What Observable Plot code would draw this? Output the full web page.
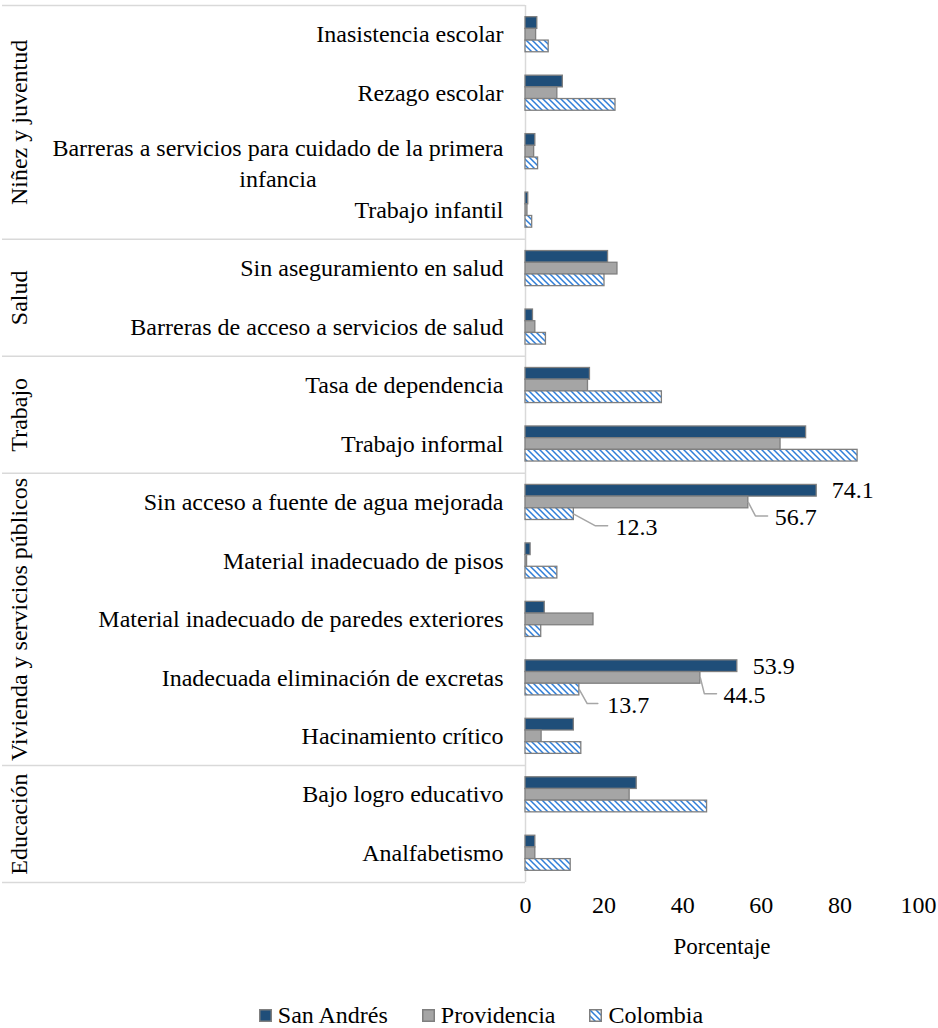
<!DOCTYPE html>
<html><head><meta charset="utf-8">
<script src="https://cdn.jsdelivr.net/npm/d3@7"></script>
<script src="https://cdn.jsdelivr.net/npm/@observablehq/plot@0.6"></script>
<style>
body{margin:0;background:#fff;color:#000;font-family:"Liberation Serif","Times New Roman",serif;}
#chart{width:938px;}
.legend{display:flex;justify-content:center;align-items:center;gap:34px;font-size:24px;line-height:28px;padding-top:26px;margin-left:24px;width:914px;}
.legend .item{display:flex;align-items:center;gap:6px;}
.legend svg{display:block;}
</style></head><body><div id="chart"></div><script>
// ---- data ----
const groups = ["Niñez y juventud", "Salud", "Trabajo", "Vivienda y servicios públicos", "Educación"];
const groupSizes = [4, 2, 2, 5, 2];
const categories = [
  "Inasistencia escolar",
  "Rezago escolar",
  "Barreras a servicios para cuidado de la primera\ninfancia",
  "Trabajo infantil",
  "Sin aseguramiento en salud",
  "Barreras de acceso a servicios de salud",
  "Tasa de dependencia",
  "Trabajo informal",
  "Sin acceso a fuente de agua mejorada",
  "Material inadecuado de pisos",
  "Material inadecuado de paredes exteriores",
  "Inadecuada eliminación de excretas",
  "Hacinamiento crítico",
  "Bajo logro educativo",
  "Analfabetismo"
];
const series = ["San Andrés", "Providencia", "Colombia"];
const sanAndres   = [3.0, 9.5, 2.5, 0.7, 21.0, 1.9, 16.4, 71.4, 74.1, 1.3, 4.9, 53.9, 12.3, 28.3, 2.5];
const providencia = [2.7, 8.1, 2.2, 0.5, 23.4, 2.5, 15.9, 64.9, 56.7, 0.4, 17.3, 44.5, 4.1, 26.5, 2.5];
const colombia    = [5.9, 22.9, 3.2, 1.7, 20.1, 5.2, 34.7, 84.5, 12.3, 8.1, 4.0, 13.7, 14.2, 46.2, 11.5];
const xTicks = [0, 20, 40, 60, 80, 100];
const xLabel = "Porcentaje";
const labelledCategories = ["Sin acceso a fuente de agua mejorada", "Inadecuada eliminación de excretas"];

// ---- layout / style (not data) ----
const FONT = `"Liberation Serif", "Times New Roman", serif`;
const fills = ["#1f4e79", "#a5a5a5", "url(#hatch)"];
const barStroke = "#7f7f7f";
const lineColor = "#d9d9d9";
// per labelled bar: [elbowDx, elbowDy(rows), endDx, textDx] ; null elbow = no leader
const labelLayout = [
  [[null, 0, null, 3.8], [1.8, 0.23, 4.9, 6.7], [5.5, 0.2, 8.6, 10.6]],
  [[null, 0, null, 3.9], [1.0, 0.27, 4.1, 5.9], [2.0, 0.24, 4.7, 7.1]]
];

const valueSets = [sanAndres, providencia, colombia];
const rows = categories.map((name, i) => ({name, row: i}));
const bars = series.flatMap((s, k) => categories.map((c, i) => ({series: s, k, row: i, value: valueSets[k][i]})));
let acc = 0;
const groupRows = groups.map((g, j) => { const r = {name: g, start: acc, end: acc + groupSizes[j]}; acc += groupSizes[j]; return r; });
const boundaries = [0, ...groupRows.map(g => g.end)];

const labels = [], leaders = [];
labelledCategories.forEach((cat, ci) => {
  const row = categories.indexOf(cat);
  series.forEach((s, k) => {
    const v = valueSets[k][row];
    const c = row + 0.3 + 0.2 * k;
    const [ex, ey, endx, tdx] = labelLayout[ci][k];
    labels.push({x: v + tdx, y: c + ey + (ex == null ? 0 : 0.03), text: v.toFixed(1)});
    if (ex != null) {
      const id = cat + s;
      leaders.push({id, x: v, y: c}, {id, x: v + ex, y: c + ey}, {id, x: v + endx, y: c + ey});
    }
  });
});

const ctx = document.createElement("canvas").getContext("2d");
ctx.font = `24px ${FONT}`;
const single = rows.filter(d => !d.name.includes("\n"));
const multi = rows.filter(d => d.name.includes("\n")).map(d => ({...d, w: Math.max(...d.name.split("\n").map(l => ctx.measureText(l).width))}));

const svg = Plot.plot({
  width: 938,
  height: 975,
  marginLeft: 525,
  marginRight: 20,
  marginTop: 5,
  marginBottom: 93,
  style: {fontFamily: FONT, fontSize: "24px", color: "#000", background: "#fff"},
  x: {domain: [0, 100], ticks: xTicks, tickSize: 0, tickPadding: 13, label: null},
  y: {domain: [0, 15], reverse: true, axis: null},
  marks: [
    Plot.ruleY(boundaries, {y: d => d, x1: 0, x2: 0, insetLeft: -523, stroke: lineColor, strokeWidth: 1.5}),
    Plot.ruleX([0], {y1: 0, y2: 15, stroke: lineColor, strokeWidth: 1.5}),
    ...series.map((s, k) => Plot.rectX(bars.filter(d => d.k === k), {
      x1: 0, x2: "value",
      y1: d => d.row + 0.2 + 0.2 * d.k,
      y2: d => d.row + 0.4 + 0.2 * d.k,
      fill: fills[k], stroke: barStroke, strokeWidth: 1.3
    })),
    Plot.text(single, {x: 0, y: d => d.row + 0.5, text: "name", textAnchor: "end", dx: -22, fill: "#000"}),
    Plot.text(multi, {x: 0, y: d => d.row + 0.5, text: "name", textAnchor: "middle", lineHeight: 1.3, dy: 10, fill: "#000"}),
    Plot.text(groupRows, {y: d => (d.start + d.end) / 2, frameAnchor: "left", dx: -506, rotate: -90, text: "name", textAnchor: "middle", fill: "#000"}),
    Plot.line(leaders, {x: "x", y: "y", z: "id", stroke: "#a6a6a6", strokeWidth: 1.5}),
    Plot.text(labels, {x: "x", y: "y", text: "text", textAnchor: "start", fill: "#000"}),
    Plot.text([xLabel], {frameAnchor: "bottom", dy: 71, text: d => d, fontSize: 23, fill: "#000"})
  ]
});

// center the multi-line label under its first line, right-aligned like the others
d3.select(svg).selectAll("g[aria-label='text']").filter((d, i) => i === 1).selectAll("text").each(function(_, j) {
  const w = multi[j].w;
  const t = d3.select(this).attr("transform");
  d3.select(this).attr("transform", t + ` translate(${-22 - w / 2},0)`);
});

svg.insertAdjacentHTML("afterbegin", `<defs><pattern id="hatch" patternUnits="userSpaceOnUse" width="6" height="6">
<rect width="6" height="6" fill="#fff"/>
<path d="M-1,-1L7,7M-1,5L1,7M5,-1L7,1" stroke="#2f7ed8" stroke-width="1.5"/></pattern></defs>`);

document.getElementById("chart").appendChild(svg);

const legend = d3.select("body").append("div").attr("class", "legend");
series.forEach((s, k) => {
  const it = legend.append("div").attr("class", "item");
  it.append("svg").attr("width", 13).attr("height", 13).html(
    `<defs><pattern id="hatchL${k}" patternUnits="userSpaceOnUse" width="6" height="6"><rect width="6" height="6" fill="#fff"/><path d="M-1,-1L7,7M-1,5L1,7M5,-1L7,1" stroke="#2f7ed8" stroke-width="1.5"/></pattern></defs>` +
    `<rect x="0.75" y="0.75" width="11.5" height="11.5" fill="${k === 2 ? `url(#hatchL${k})` : fills[k]}" stroke="${barStroke}" stroke-width="1.5"/>`);
  it.append("span").text(s);
});
</script></body></html>
